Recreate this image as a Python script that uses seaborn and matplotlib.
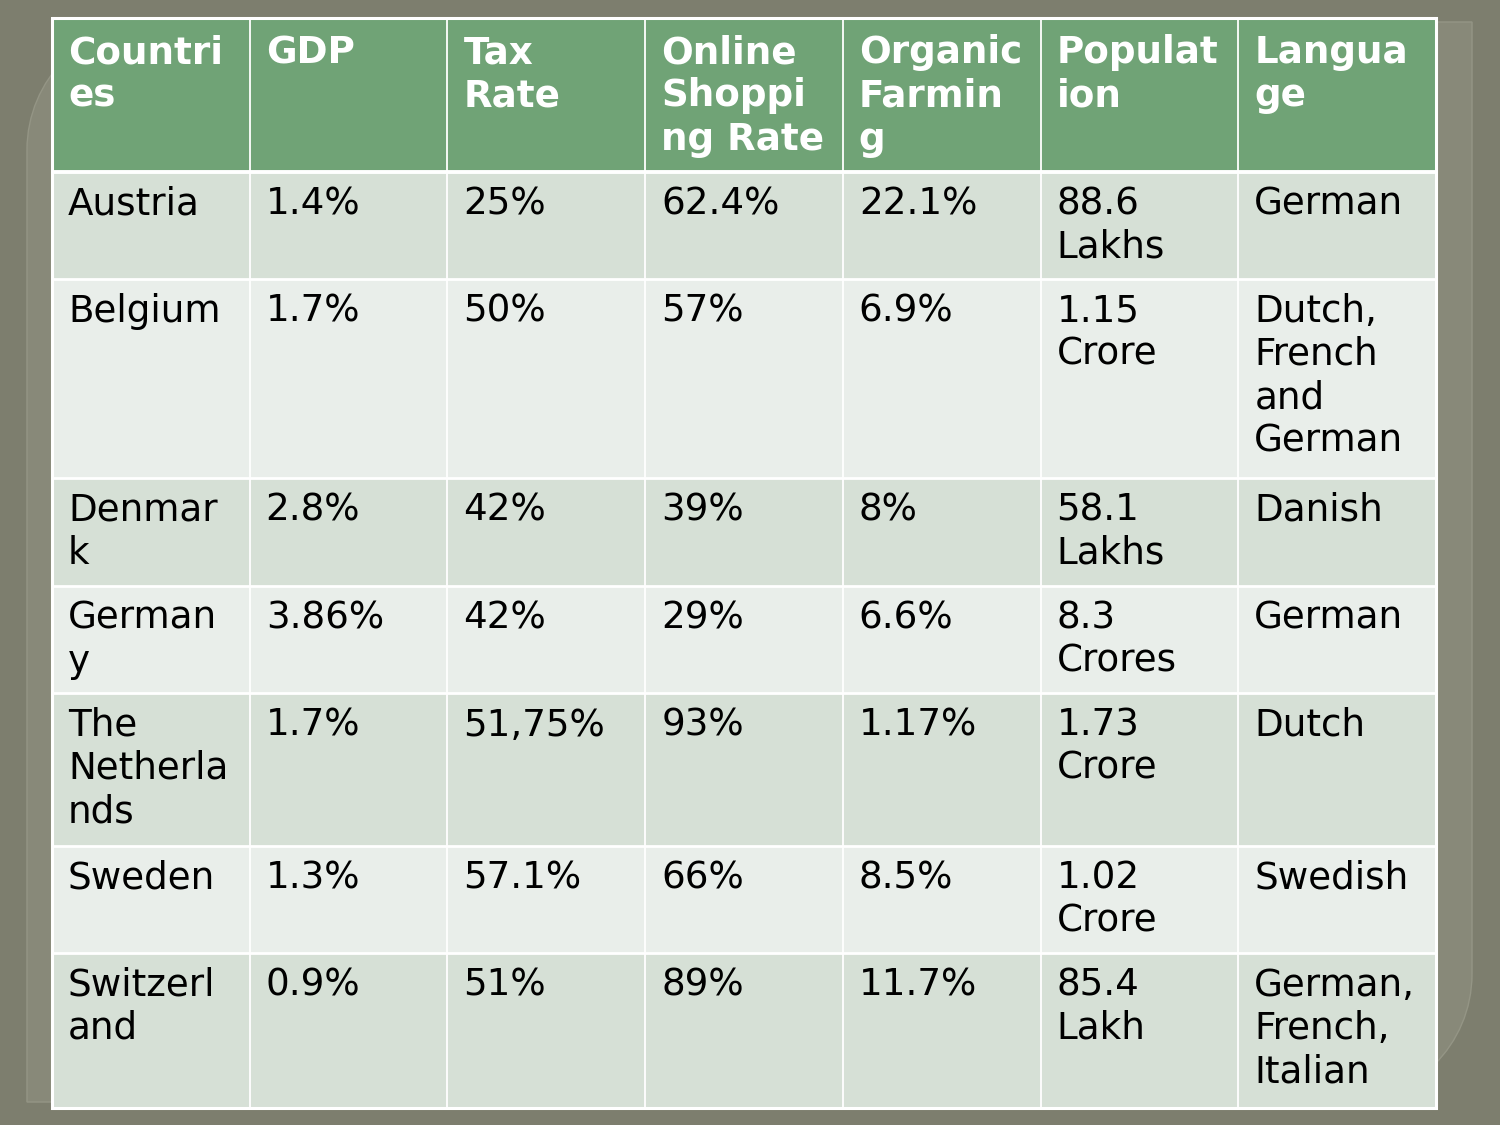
import numpy as np
import seaborn as sns
import matplotlib.pyplot as plt
from matplotlib.colors import ListedColormap
from matplotlib.path import Path
from matplotlib.patches import PathPatch


"""
    Table data (cells already wrapped the way the slide wraps them)
"""
headers = ["Countri\nes", "GDP", "Tax\nRate", "Online\nShoppi\nng Rate",
           "Organic\nFarmin\ng", "Populat\nion", "Langua\nge"]
countries = ["Austria", "Belgium", "Denmar\nk", "German\ny",
             "The\nNetherla\nnds", "Sweden", "Switzerl\nand"]
gdp = ["1.4%", "1.7%", "2.8%", "3.86%", "1.7%", "1.3%", "0.9%"]
tax_rate = ["25%", "50%", "42%", "42%", "51,75%", "57.1%", "51%"]
online_shopping = ["62.4%", "57%", "39%", "29%", "93%", "66%", "89%"]
organic_farming = ["22.1%", "6.9%", "8%", "6.6%", "1.17%", "8.5%", "11.7%"]
population = ["88.6\nLakhs", "1.15\nCrore", "58.1\nLakhs", "8.3\nCrores",
              "1.73\nCrore", "1.02\nCrore", "85.4\nLakh"]
language = ["German", "Dutch,\nFrench\nand\nGerman", "Danish", "German",
            "Dutch", "Swedish", "German,\nFrench,\nItalian"]

# layout (pixels on a 1500x1125 canvas)
col_edges = np.linspace(52, 1436, 8)
row_edges = [18, 172, 279, 478, 586, 693, 846, 953, 1108]
LINE_H = 43.3
PAD_X = 16

HEADER_COLOR = "#70a376"
ROW_COLORS = ["#d6e0d6", "#e9eeea"]
BG_COLOR = "#7d7e6e"
PANEL_COLOR = "#888979"


def panel_path(x0, y0, x1, y1, r):
    # rectangle with rounded top-left and bottom-right corners
    k = 0.5523 * r
    verts = [
        (x0 + r, y0), (x1, y0), (x1, y1 - r),
        (x1, y1 - r + k), (x1 - r + k, y1), (x1 - r, y1),
        (x0, y1), (x0, y0 + r),
        (x0, y0 + r - k), (x0 + r - k, y0), (x0 + r, y0),
        (x0 + r, y0),
    ]
    codes = [Path.MOVETO, Path.LINETO, Path.LINETO,
             Path.CURVE4, Path.CURVE4, Path.CURVE4,
             Path.LINETO, Path.LINETO,
             Path.CURVE4, Path.CURVE4, Path.CURVE4,
             Path.CLOSEPOLY]
    return Path(verts, codes)


sns.set_theme(style="white")
plt.rcParams['font.family'] = ['DejaVu Sans']

fig = plt.figure(figsize=(15, 11.25), dpi=100)
fig.patch.set_facecolor(BG_COLOR)
ax = fig.add_axes([0, 0, 1, 1])
ax.set_xlim(0, 1500)
ax.set_ylim(1125, 0)
ax.axis("off")

ax.add_patch(PathPatch(panel_path(27, 22, 1472, 1102, 128),
                       facecolor=PANEL_COLOR, edgecolor="#949585", lw=1))

# cell backgrounds
n_rows = len(countries)
shade = np.array([[0] * 7] + [[1 + (i % 2)] * 7 for i in range(n_rows)])
cmap = ListedColormap([HEADER_COLOR] + ROW_COLORS)
ax.pcolormesh(col_edges, row_edges, shade, cmap=cmap, vmin=-0.5, vmax=2.5,
              shading="flat", zorder=2)

# white grid
ax.vlines(col_edges[1:-1], row_edges[0], row_edges[-1], color="white", lw=1.3, zorder=3)
ax.hlines(row_edges[2:-1], col_edges[0], col_edges[-1], color="white", lw=2.0, zorder=3)
ax.hlines(row_edges[1], col_edges[0], col_edges[-1], color="white", lw=2.8, zorder=3)
ax.plot([col_edges[0], col_edges[-1], col_edges[-1], col_edges[0], col_edges[0]],
        [row_edges[0], row_edges[0], row_edges[-1], row_edges[-1], row_edges[0]],
        color="white", lw=2.2, zorder=3, solid_joinstyle="miter")


def cell_text(col, row, text, first_offset, **kw):
    x = col_edges[col] + PAD_X
    y0 = row_edges[row] + first_offset
    for i, line in enumerate(text.split("\n")):
        ax.text(x, y0 + i * LINE_H, line, va="baseline", ha="left",
                fontsize=26.8, zorder=4, **kw)


for c, h in enumerate(headers):
    cell_text(c, 0, h, 45, color="white", fontweight="bold")

columns = [countries, gdp, tax_rate, online_shopping, organic_farming,
           population, language]
for c, values in enumerate(columns):
    for r, v in enumerate(values):
        cell_text(c, r + 1, v, 42.5, color="black")

plt.savefig("out.png", dpi=100, facecolor=fig.get_facecolor())
